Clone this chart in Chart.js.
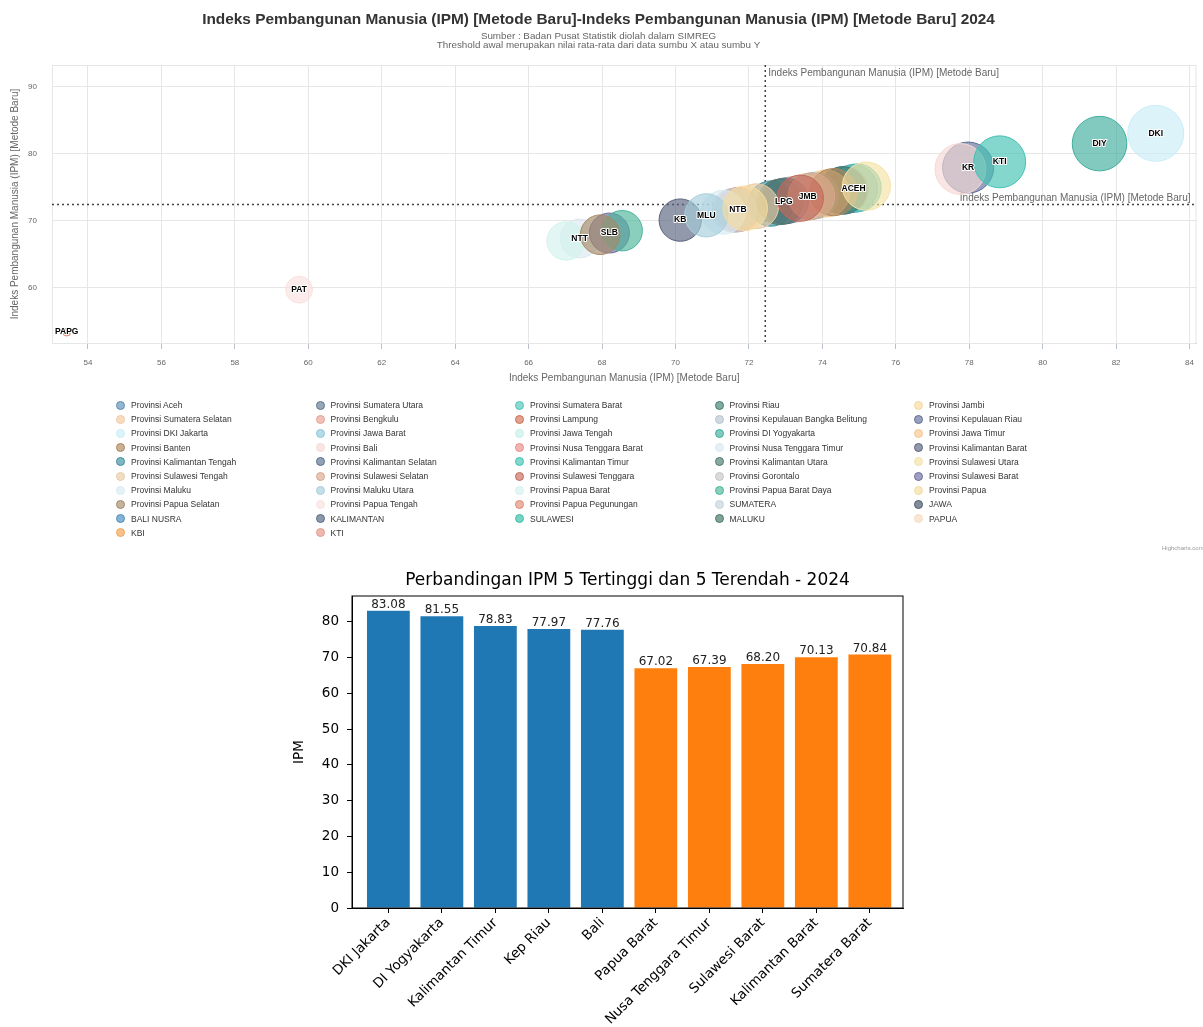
<!DOCTYPE html>
<html>
<head>
<meta charset="utf-8">
<script src="https://cdn.jsdelivr.net/npm/chart.js@4.4.1/dist/chart.umd.min.js"></script>
<style>
  body { margin: 0; background: #fff; width: 1203px; height: 1027px; position: relative; overflow: hidden; font-family: "Liberation Sans", Arial, sans-serif; }
  #bubble { position: absolute; left: 0; top: 0; }
  #legend { position: absolute; left: 0; top: 0; width: 1203px; height: 560px; pointer-events: none; }
  .item { position: absolute; font-size: 8.5px; color: #333; white-space: nowrap; line-height: 10px; }
  .dot { position: absolute; width: 7px; height: 7px; border-radius: 50%; border: 1px solid; }
  #credit { position: absolute; left: 1162px; top: 545px; font-size: 6px; color: #999; }
  #bars { position: absolute; left: 260px; top: 565px; }
</style>
</head>
<body>
<canvas id="bubble" width="1203" height="386"></canvas>
<div id="legend"></div>
<div id="credit">Highcharts.com</div>
<canvas id="bars" width="660" height="462"></canvas>
<script>
// provinsi, singkatan label, nilai IPM 2024
var provinces = ['Provinsi Aceh', 'Provinsi Sumatera Utara', 'Provinsi Sumatera Barat', 'Provinsi Riau', 'Provinsi Jambi',
  'Provinsi Sumatera Selatan', 'Provinsi Bengkulu', 'Provinsi Lampung', 'Provinsi Kepulauan Bangka Belitung', 'Provinsi Kepulauan Riau',
  'Provinsi DKI Jakarta', 'Provinsi Jawa Barat', 'Provinsi Jawa Tengah', 'Provinsi DI Yogyakarta', 'Provinsi Jawa Timur',
  'Provinsi Banten', 'Provinsi Bali', 'Provinsi Nusa Tenggara Barat', 'Provinsi Nusa Tenggara Timur', 'Provinsi Kalimantan Barat',
  'Provinsi Kalimantan Tengah', 'Provinsi Kalimantan Selatan', 'Provinsi Kalimantan Timur', 'Provinsi Kalimantan Utara', 'Provinsi Sulawesi Utara',
  'Provinsi Sulawesi Tengah', 'Provinsi Sulawesi Selatan', 'Provinsi Sulawesi Tenggara', 'Provinsi Gorontalo', 'Provinsi Sulawesi Barat',
  'Provinsi Maluku', 'Provinsi Maluku Utara', 'Provinsi Papua Barat', 'Provinsi Papua Barat Daya', 'Provinsi Papua',
  'Provinsi Papua Selatan', 'Provinsi Papua Tengah', 'Provinsi Papua Pegunungan'];
var provAbbr = ['ACEH', 'SMU', 'SMB', 'RIAU', 'JMB', 'SMS', 'BKL', 'LPG', 'BBL', 'KR',
  'DKI', 'JBR', 'JTG', 'DIY', 'JTM', 'BTN', 'BALI', 'NTB', 'NTT', 'KB',
  'KTG', 'KS', 'KTI', 'KU', 'SLU', 'SLT', 'SLS', 'SLG', 'GTO', 'SLB',
  'MLK', 'MLU', 'PB', 'PBD', 'PAP', 'PAS', 'PAT', 'PAPG'];
var ipm = [74.85, 74.60, 74.95, 74.55, 73.60, 73.20, 73.55, 72.95, 73.10, 77.97,
  83.08, 73.80, 73.50, 81.55, 74.10, 74.30, 77.76, 71.70, 67.39, 70.13,
  72.60, 73.00, 78.83, 72.85, 75.20, 72.20, 73.70, 73.40, 71.60, 68.20,
  71.30, 70.84, 67.02, 68.55, 71.90, 67.95, 59.75, 53.42];
var regions = ['SUMATERA', 'JAWA', 'BALI NUSRA', 'KALIMANTAN', 'SULAWESI', 'MALUKU', 'PAPUA', 'KBI', 'KTI'];
var seriesColors = ['#5b8db3', '#5d7891', '#4fc4b8', '#3d7d70', '#f7d89c',
  '#f2caa0', '#e8a093', '#cf6e52', '#b7c3cf', '#5f6f99',
  '#c9ecf7', '#8cc8d8', '#c6f0e8', '#3fae9c', '#f8c68c',
  '#ad865a', '#f6d9d6', '#e88d8b', '#dbe8f0', '#58627c',
  '#3d8ea0', '#56708c', '#41c2b2', '#4c7a6e', '#f5e2a6',
  '#eacba3', '#d9a88c', '#c4695a', '#c3c6c8', '#6e6ca0',
  '#d7ebf2', '#a6cedc', '#d2f2ec', '#4cb49a', '#f4dc9e',
  '#a58a68', '#f9e1de', '#df8a74', '#c7d5dc', '#4f5b6f',
  '#4f91c2', '#5a6c85', '#3ec1a9', '#4b7b69', '#f6dcc2',
  '#f2a65a', '#e59b8c'];
var xTicks = [54, 56, 58, 60, 62, 64, 66, 68, 70, 72, 74, 76, 78, 80, 82, 84];
var yTicks = [60, 70, 80, 90];

// grafik batang 5 tertinggi / 5 terendah
var barNames = ['DKI Jakarta', 'DI Yogyakarta', 'Kalimantan Timur', 'Kep Riau', 'Bali',
  'Papua Barat', 'Nusa Tenggara Timur', 'Sulawesi Barat', 'Kalimantan Barat', 'Sumatera Barat'];
var topValues = [83.08, 81.55, 78.83, 77.97, 77.76];
var bottomValues = [67.02, 67.39, 68.20, 70.13, 70.84];
var barTicks = [0, 10, 20, 30, 40, 50, 60, 70, 80];

var axisTitle = 'Indeks Pembangunan Manusia (IPM) [Metode Baru]';
var threshold = ipm.reduce((s, v) => s + v, 0) / ipm.length;

function rgba(hex, a) {
  var n = parseInt(hex.slice(1), 16);
  return 'rgba(' + (n >> 16) + ',' + ((n >> 8) & 255) + ',' + (n & 255) + ',' + a + ')';
}

// ukuran bubble ala highcharts (sizeBy area)
var zMin = Math.min.apply(null, ipm), zMax = Math.max.apply(null, ipm);
var minBubble = 8, maxBubble = 56;
function bubbleRadius(v) {
  var pos = (v - zMin) / (zMax - zMin);
  return Math.sqrt(minBubble * minBubble + pos * (maxBubble * maxBubble - minBubble * minBubble)) / 2;
}

var datasets = [];
provinces.forEach((name, i) => {
  datasets.push({
    label: name,
    abbr: provAbbr[i],
    data: [{ x: ipm[i], y: ipm[i], r: bubbleRadius(ipm[i]) }],
    backgroundColor: rgba(seriesColors[i], 0.65),
    borderColor: seriesColors[i],
    borderWidth: 1,
    order: -i
  });
});
regions.forEach((name, k) => {
  var i = provinces.length + k;
  datasets.push({ label: name, abbr: name, data: [], backgroundColor: rgba(seriesColors[i], 0.7), borderColor: seriesColors[i], order: -i });
});

var bubbleExtras = {
  id: 'bubbleExtras',
  beforeDatasetsDraw(chart) {
    var ctx = chart.ctx, a = chart.chartArea;
    var px = chart.scales.x.getPixelForValue(threshold);
    var py = chart.scales.y.getPixelForValue(threshold);
    ctx.save();
    ctx.strokeStyle = '#e6e6e6';
    ctx.lineWidth = 1;
    ctx.strokeRect(a.left + 0.5, a.top + 0.5, a.right - a.left - 1, a.bottom - a.top);
    ctx.strokeStyle = '#444';
    ctx.lineWidth = 1.5;
    ctx.setLineDash([2, 3]);
    ctx.beginPath();
    ctx.moveTo(px, a.top); ctx.lineTo(px, a.bottom);
    ctx.moveTo(a.left, py); ctx.lineTo(a.right, py);
    ctx.stroke();
    ctx.setLineDash([]);
    ctx.fillStyle = '#666';
    ctx.font = '10px "Liberation Sans"';
    ctx.textBaseline = 'middle';
    ctx.textAlign = 'left';
    ctx.fillText(axisTitle, px + 3, a.top + 8);
    ctx.textAlign = 'right';
    ctx.fillText(axisTitle, a.right - 6, py - 6);
    ctx.restore();
  },
  afterDatasetsDraw(chart) {
    var ctx = chart.ctx, boxes = [];
    ctx.save();
    ctx.font = 'bold 8.5px "Liberation Sans"';
    ctx.textAlign = 'center';
    ctx.textBaseline = 'middle';
    ctx.lineJoin = 'round';
    chart.data.datasets.forEach((ds, i) => {
      chart.getDatasetMeta(i).data.forEach(el => {
        var w = ctx.measureText(ds.abbr).width;
        var b = { x1: el.x - w / 2 - 1, x2: el.x + w / 2 + 1, y1: el.y - 6, y2: el.y + 6 };
        if (boxes.some(o => b.x1 < o.x2 && b.x2 > o.x1 && b.y1 < o.y2 && b.y2 > o.y1)) return;
        boxes.push(b);
        ctx.strokeStyle = '#fff';
        ctx.lineWidth = 2;
        ctx.strokeText(ds.abbr, el.x, el.y);
        ctx.fillStyle = '#000';
        ctx.fillText(ds.abbr, el.x, el.y);
      });
    });
    ctx.restore();
  }
};

Chart.defaults.font.family = '"Liberation Sans", Arial, sans-serif';

var bubbleChart = new Chart(document.getElementById('bubble'), {
  type: 'bubble',
  data: { datasets: datasets },
  options: {
    responsive: false,
    animation: false,
    layout: { autoPadding: false, padding: { left: 0, right: 6, top: 0, bottom: 0 } },
    plugins: {
      legend: { display: false },
      tooltip: { enabled: false },
      title: {
        display: true,
        text: 'Indeks Pembangunan Manusia (IPM) [Metode Baru]-Indeks Pembangunan Manusia (IPM) [Metode Baru] 2024',
        color: '#333',
        font: { size: 15.4, weight: 'bold', lineHeight: 1.2 },
        padding: { top: 10.5, bottom: 1 }
      },
      subtitle: {
        display: true,
        text: ['Sumber : Badan Pusat Statistik diolah dalam SIMREG', 'Threshold awal merupakan nilai rata-rata dari data sumbu X atau sumbu Y'],
        color: '#666',
        font: { size: 9.8, lineHeight: 0.97 },
        padding: { top: 1.5, bottom: 14.5 }
      }
    },
    scales: {
      x: {
        type: 'linear',
        min: 53.02,
        max: 84.19,
        afterBuildTicks: s => { s.ticks = xTicks.map(v => ({ value: v })); },
        afterFit: s => { s.height = 43; },
        grid: { color: '#e6e6e6', tickColor: '#b8c0cc', tickLength: 6 },
        border: { color: '#b0b8c4' },
        ticks: { color: '#666', font: { size: 8 }, padding: 9, maxRotation: 0, autoSkip: false },
        title: { display: true, text: axisTitle, color: '#666', font: { size: 10 }, padding: { top: 0, bottom: 2 } }
      },
      y: {
        type: 'linear',
        min: 51.79,
        max: 93.28,
        afterBuildTicks: s => { s.ticks = yTicks.map(v => ({ value: v })); },
        afterFit: s => { s.width = 52; },
        grid: { color: '#e6e6e6', drawTicks: false },
        border: { display: false },
        ticks: { color: '#666', font: { size: 8 }, padding: 15 },
        title: { display: true, text: axisTitle, color: '#666', font: { size: 10 }, padding: { top: 9, bottom: 0 } }
      }
    }
  },
  plugins: [bubbleExtras]
});

// legenda 5 kolom seperti highcharts
var legendEl = document.getElementById('legend');
bubbleChart.data.datasets.forEach((ds, i) => {
  var row = Math.floor(i / 5), col = i % 5;
  var cy = 405 + row * 14.2;
  var dot = document.createElement('div');
  dot.className = 'dot';
  dot.style.left = (116 + col * 199.5) + 'px';
  dot.style.top = (cy - 4.5) + 'px';
  dot.style.background = ds.backgroundColor;
  dot.style.borderColor = ds.borderColor;
  legendEl.appendChild(dot);
  var it = document.createElement('div');
  it.className = 'item';
  it.style.left = (131 + col * 199.5) + 'px';
  it.style.top = (cy - 5) + 'px';
  it.textContent = ds.label;
  legendEl.appendChild(it);
});

var barExtras = {
  id: 'barExtras',
  afterDatasetsDraw(chart) {
    var ctx = chart.ctx, a = chart.chartArea;
    ctx.save();
    ctx.strokeStyle = '#000';
    ctx.lineWidth = 1;
    ctx.strokeRect(a.left, a.top, a.right - a.left, a.bottom - a.top);
    ctx.fillStyle = '#222';
    ctx.font = '12px "DejaVu Sans"';
    ctx.textAlign = 'center';
    ctx.textBaseline = 'bottom';
    chart.data.datasets.forEach((ds, i) => {
      chart.getDatasetMeta(i).data.forEach((el, j) => {
        ctx.fillText(ds.data[j].y.toFixed(2), el.x, el.y);
      });
    });
    ctx.restore();
  }
};

var dejavu = '"DejaVu Sans", sans-serif';
new Chart(document.getElementById('bars'), {
  type: 'bar',
  data: {
    datasets: [
      { label: 'Tertinggi', data: topValues.map((v, i) => ({ x: i, y: v })), backgroundColor: '#1f77b4' },
      { label: 'Terendah', data: bottomValues.map((v, i) => ({ x: i + 5, y: v })), backgroundColor: '#ff7f0e' }
    ]
  },
  options: {
    responsive: false,
    animation: false,
    datasets: { bar: { grouped: false, barPercentage: 0.8, categoryPercentage: 1 } },
    layout: { padding: { right: 17, bottom: 0 } },
    plugins: {
      legend: { display: false },
      tooltip: { enabled: false },
      title: {
        display: true,
        fullSize: false,
        text: 'Perbandingan IPM 5 Tertinggi dan 5 Terendah - 2024',
        color: '#000',
        font: { family: dejavu, size: 17, weight: 'normal', lineHeight: 1.2 },
        padding: { top: 5, bottom: 5.6 }
      }
    },
    scales: {
      x: {
        type: 'linear',
        offset: false,
        min: -0.68,
        max: 9.62,
        afterBuildTicks: s => { s.ticks = barNames.map((n, i) => ({ value: i })); },
        afterFit: s => { s.height = 119; },
        ticks: { callback: v => barNames[v], minRotation: 45, maxRotation: 45, autoSkip: false, color: '#000', font: { family: dejavu, size: 13.5 }, padding: 2 },
        grid: { offset: false, drawOnChartArea: false, tickLength: 5, tickColor: '#000' },
        border: { color: '#000' }
      },
      y: {
        min: 0,
        max: 87.23,
        afterBuildTicks: s => { s.ticks = barTicks.map(v => ({ value: v })); },
        afterFit: s => { s.width = 92; },
        ticks: { color: '#000', font: { family: dejavu, size: 13.5 }, padding: 8 },
        grid: { drawOnChartArea: false, tickLength: 5, tickColor: '#000' },
        border: { color: '#000' },
        title: { display: true, text: 'IPM', color: '#000', font: { family: dejavu, size: 13.5 }, padding: { top: 31, bottom: 0 } }
      }
    }
  },
  plugins: [barExtras]
});
</script>
</body>
</html>
